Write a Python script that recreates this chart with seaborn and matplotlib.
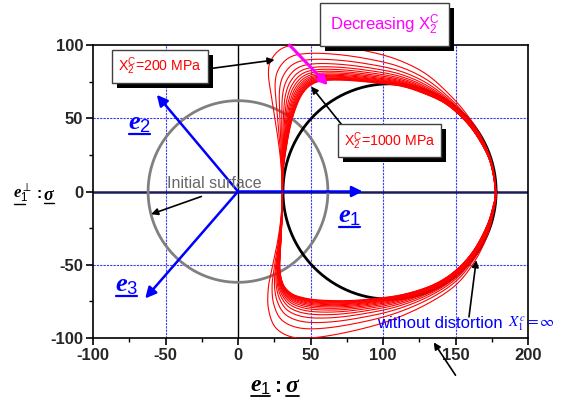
import numpy as np
import pandas as pd
import matplotlib
matplotlib.use("Agg")
import matplotlib.pyplot as plt
import seaborn as sns
from matplotlib import patheffects as pe
from matplotlib.lines import Line2D

# ---------------- data ----------------
X_TICKS = [-100, -50, 0, 50, 100, 150, 200]
Y_TICKS = [-100, -50, 0, 50, 100]
X_GRID_BLUE = [-50, 50, 100, 150]
Y_GRID_BLUE = [-50, 50]

# family of distorted yield surfaces, one per compressive strength X2c (MPa)
X2C_MPA = [200, 250, 300, 350, 400, 450, 500, 550, 600, 650, 700, 750, 800, 850, 900, 950, 1000]

# control points of the X2c = 200 MPa surface (outermost red curve)
OUTER_X = [178, 175, 168, 159, 147, 130, 110, 88, 66, 45, 31, 23, 21, 23.5, 27, 29.5,
           30.7, 29.7, 27.5, 24, 21, 21, 26, 38, 55, 80, 105, 130, 150, 163, 172, 176.5]
OUTER_Y = [0, 20, 37, 51, 65, 80, 90, 96, 99.5, 100.5, 98, 90, 80, 62, 40, 20,
           0, -17, -33, -50, -65, -80, -93, -99.5, -99.5, -95, -88, -77, -64, -48, -30, -13]
# control points of the X2c = 1000 MPa surface (innermost red curve)
INNER_X = [177.5, 174, 166, 156, 143, 128, 112, 92, 72, 58, 50, 44, 39.5, 36, 33, 31,
           30.7, 30.5, 29.5, 28.8, 31, 36, 43, 55, 75, 95, 115, 135, 150, 162, 171, 175.5]
INNER_Y = [0, 20, 36, 49, 60, 67, 72, 74.5, 76, 75.5, 72.5, 66, 56, 44, 28, 13,
           0, -15, -35, -52, -63, -69, -72, -74, -74.5, -73, -70, -63.5, -54, -41, -25, -12]

# surface without distortion and initial surface (circles: centre, radius)
BASE_CENTER = (104.5, 0.0)
BASE_RADIUS = 73.5
INIT_CENTER = (0.0, 0.0)
INIT_RADIUS = 62.0

# basis vector tips in the deviatoric plane
E_NAMES = ["1", "2", "3"]
E_TIP_X = [86, -56, -64]
E_TIP_Y = [0, 66, -73]

# ---------------- helpers ----------------
def closed_spline(px, py, n=14):
    P = np.column_stack([px, py]).astype(float)
    N = len(P)
    t = np.linspace(0, 1, n, endpoint=False)[:, None]
    segs = []
    for i in range(N):
        p0, p1, p2, p3 = P[(i - 1) % N], P[i], P[(i + 1) % N], P[(i + 2) % N]
        segs.append(0.5 * (2 * p1 + (-p0 + p2) * t + (2 * p0 - 5 * p1 + 4 * p2 - p3) * t ** 2
                           + (-p0 + 3 * p1 - 3 * p2 + p3) * t ** 3))
    out = np.vstack(segs + [P[:1]])
    return out[:, 0], out[:, 1]


def circle(center, r, n=361):
    a = np.linspace(0, 2 * np.pi, n)
    return center[0] + r * np.cos(a), center[1] + r * np.sin(a)


# red family frame
w_hi, w_lo = 1 / X2C_MPA[0], 1 / X2C_MPA[-1]
frames = []
for xc in X2C_MPA:
    w = (1 / xc - w_lo) / (w_hi - w_lo)
    cx = w * np.array(OUTER_X) + (1 - w) * np.array(INNER_X)
    cy = w * np.array(OUTER_Y) + (1 - w) * np.array(INNER_Y)
    sx, sy = closed_spline(cx, cy)
    frames.append(pd.DataFrame({"x": sx, "y": sy, "X2c": xc}))
red_df = pd.concat(frames, ignore_index=True)

bx, by = circle(BASE_CENTER, BASE_RADIUS)
base_df = pd.DataFrame({"x": bx, "y": by})
ix, iy = circle(INIT_CENTER, INIT_RADIUS)
init_df = pd.DataFrame({"x": ix, "y": iy})

# ---------------- style ----------------
sns.set_theme(style="white")
plt.rcParams["font.family"] = ["Liberation Sans", "DejaVu Sans"]
plt.rcParams["mathtext.fontset"] = "custom"
plt.rcParams["mathtext.rm"] = "Liberation Sans"
plt.rcParams["mathtext.it"] = "Liberation Serif:italic:bold"
plt.rcParams["mathtext.bf"] = "Liberation Sans:bold"

W, H = 561, 401
fig = plt.figure(figsize=(W / 100, H / 100), dpi=100)
ax = fig.add_axes([93 / W, 1 - 338 / H, 435 / W, 293 / H])
ax.set_xlim(-100, 200)
ax.set_ylim(-100, 100)

# reference lines
for gx in X_GRID_BLUE:
    ax.axvline(gx, color="#3a3aff", lw=0.8, ls=(0, (2, 1)), zorder=1)
for gy in Y_GRID_BLUE:
    ax.axhline(gy, color="#3a3aff", lw=0.8, ls=(0, (2, 1)), zorder=1)
ax.axvline(0, color="black", lw=1.0, zorder=1)
ax.axhline(0, color="#1c1c5a", lw=1.8, zorder=1)

# curves
sns.lineplot(data=init_df, x="x", y="y", sort=False, estimator=None, color="#808080",
             lw=2.0, ax=ax, zorder=2)
sns.lineplot(data=base_df, x="x", y="y", sort=False, estimator=None, color="black",
             lw=2.0, ax=ax, zorder=3)
sns.lineplot(data=red_df, x="x", y="y", units="X2c", sort=False, estimator=None,
             color="red", lw=0.8, ax=ax, zorder=4, legend=False)
ax.set_xlabel("")
ax.set_ylabel("")
ax.set_xlim(-100, 200)
ax.set_ylim(-100, 100)

# basis vectors
for name, tx, ty in zip(E_NAMES, E_TIP_X, E_TIP_Y):
    ax.annotate("", xy=(tx, ty), xytext=(0, 0),
                arrowprops=dict(arrowstyle="-|>", color="#0000ff", lw=1.8,
                                mutation_scale=16, shrinkA=0, shrinkB=0), zorder=5)

underlined = []  # (text artist, colour, linewidth, offset px)

def vec_label(x, y, sub, size=19):
    t = ax.text(x, y, r"$e_{\mathit{%s}}$" % sub, color="#0000ff", fontsize=size,
                ha="center", va="center", zorder=6)
    underlined.append((t, "#0000ff", 1.6, 1.0))
    return t

vec_label(-68, 47, "2")
vec_label(77, -17, "1")
vec_label(-77, -64, "3")

# ticks
ax.set_xticks(X_TICKS)
ax.set_yticks(Y_TICKS)
ax.set_xticklabels([str(v) for v in X_TICKS], fontweight="bold", fontsize=12)
ax.set_yticklabels([str(v) for v in Y_TICKS], fontweight="bold", fontsize=12)
ax.set_xticks(np.arange(-75, 200, 50), minor=True)
ax.set_yticks([-75, -25, 25, 75], minor=True)
ax.tick_params(which="major", direction="out", length=5, width=1.2, color="black",
               bottom=True, left=True, pad=2)
ax.tick_params(which="minor", direction="out", length=3, width=1.0, color="black",
               bottom=True, left=True)
for s in ax.spines.values():
    s.set_color("black")
    s.set_linewidth(1.2)

# boxed annotations with shadow
def shadow_box(t):
    t.get_bbox_patch().set_path_effects(
        [pe.SimplePatchShadow(offset=(3.6, -3.6), shadow_rgbFace="black", alpha=1.0), pe.Normal()])

t1 = ax.text(101, 114, r"Decreasing X$_2^{\mathrm{C}}$", color="#ff00ff", fontsize=12,
             ha="center", va="center", clip_on=False, zorder=8,
             bbox=dict(boxstyle="square,pad=0.55", fc="white", ec="#404040", lw=1.0))
shadow_box(t1)
t2 = ax.text(-53.8, 85.4, r"X$_2^{\mathrm{C}}$=200 MPa", color="red", fontsize=10.2,
             ha="center", va="center", zorder=8,
             bbox=dict(boxstyle="square,pad=0.4", fc="white", ec="#404040", lw=1.0))
shadow_box(t2)
t3 = ax.text(104.5, 34.6, r"X$_2^{\mathrm{C}}$=1000 MPa", color="red", fontsize=10.2,
             ha="center", va="center", zorder=8,
             bbox=dict(boxstyle="square,pad=0.4", fc="white", ec="#404040", lw=1.0))
shadow_box(t3)

# arrows of the annotations
arr = dict(arrowstyle="-|>", color="black", lw=1.2, mutation_scale=10, shrinkA=0, shrinkB=0)
ax.annotate("", xy=(25.2, 89.8), xytext=(-16.9, 84.2), arrowprops=arr, zorder=7)
ax.annotate("", xy=(50.5, 71.6), xytext=(72, 45), arrowprops=arr, zorder=7)
ax.annotate("", xy=(-59.9, -15.5), xytext=(-25.3, -3.4), arrowprops=arr, zorder=7)
ax.annotate("", xy=(164.3, -46.9), xytext=(159.3, -85.6), arrowprops=arr, zorder=7)
ax.annotate("", xy=(135, -103), xytext=(150, -125.4), arrowprops=arr, zorder=7,
            annotation_clip=False)
ax.annotate("", xy=(62, 72.5), xytext=(35.5, 100),
            arrowprops=dict(arrowstyle="-|>", color="#ff00ff", lw=2.2, mutation_scale=14,
                            shrinkA=0, shrinkB=0), zorder=7)

ax.text(-16.4, 5.7, "Initial surface", color="#666666", fontsize=11.5, ha="center",
        va="center", zorder=6)
ax.text(96.2, -90.2, "without distortion", color="#0000ff", fontsize=12, ha="left",
        va="center", zorder=6)
ax.text(186, -90.2, r"$X_1^c = \infty$", color="#0000ff", fontsize=11, ha="left",
        va="center", math_fontfamily="stix", clip_on=False, zorder=6)

# axis labels built from pieces (figure pixel positions)
def ftext(px, py, s, size, **kw):
    return fig.text(px / W, 1 - py / H, s, fontsize=size, color="black", va="center", **kw)

xe = ftext(250, 386, r"$e_{\mathit{1}}$", 17, ha="left")
ftext(275, 386, ":", 15, ha="left", fontweight="bold")
xs = ftext(285, 386, r"$\mathit{\sigma}$", 17, ha="left")
underlined += [(xe, "black", 1.3, 1.0), (xs, "black", 1.3, 1.5)]

ye = ftext(13, 193, r"$e_{\mathit{1}}^{\perp}$", 12, ha="left")
ftext(36, 194, ":", 11, ha="left", fontweight="bold")
ys = ftext(43, 195, r"$\mathit{\sigma}$", 13, ha="left")
underlined += [(ye, "black", 1.0, 0.5), (ys, "black", 1.0, 1.0)]

# underline the vector symbols
fig.canvas.draw()
rend = fig.canvas.get_renderer()
for t, col, lw, off in underlined:
    bb = t.get_window_extent(renderer=rend)
    x0, x1 = bb.x0 + 1, bb.x1 - 1
    if "perp" in t.get_text():
        x1 = bb.x0 + 0.62 * bb.width
    yy = bb.y0 + off
    fig.add_artist(Line2D([x0 / W, x1 / W], [yy / H, yy / H], color=col, lw=lw,
                          transform=fig.transFigure, zorder=9))

fig.savefig("out.png", dpi=100)
